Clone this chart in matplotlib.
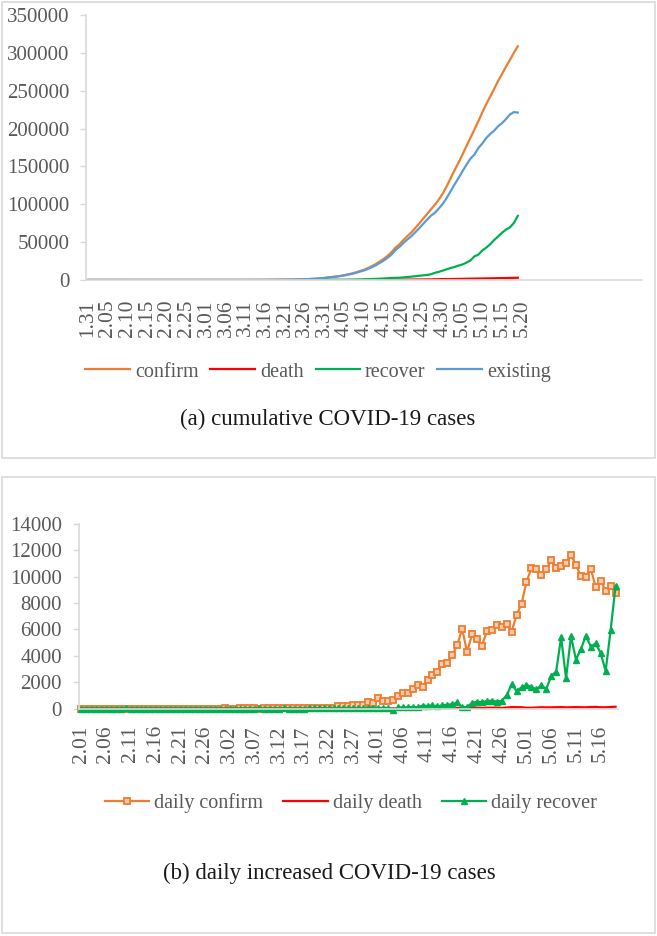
import matplotlib
matplotlib.use('Agg')
import matplotlib.pyplot as plt
from matplotlib.patches import Rectangle

plt.rcParams['font.family'] = ['Liberation Serif', 'DejaVu Serif']

# ---------------- data ----------------
top_tick_labels = ['1.31', '2.05', '2.10', '2.15', '2.20', '2.25', '3.01', '3.06', '3.11',
                   '3.16', '3.21', '3.26', '3.31', '4.05', '4.10', '4.15', '4.20', '4.25',
                   '4.30', '5.05', '5.10', '5.15', '5.20']
bottom_tick_labels = ['2.01', '2.06', '2.11', '2.16', '2.21', '2.26', '3.02', '3.07', '3.12',
                      '3.17', '3.22', '3.27', '4.01', '4.06', '4.11', '4.16', '4.21', '4.26',
                      '5.01', '5.06', '5.11', '5.16']
top_category_count = 141   # category axis slots (blank ones after 5.20)

# cumulative series, 1.31 ... 5.19
confirm = [2, 2, 2, 2, 2, 2, 2, 2, 2, 2, 2, 2, 2, 2, 2, 2, 2, 2, 2, 2, 2, 2, 2, 2, 2, 2, 2, 2, 2, 2,
           3, 3, 3, 4, 10, 14, 17, 17, 20, 28, 34, 45, 59, 63, 93, 114, 147, 199, 253, 306,
           367, 438, 495, 658, 840, 1036, 1264, 1534, 1836, 2337, 2777, 3548, 4149, 4731, 5389,
           6343, 7497, 8672, 10131, 11917,
           13584, 15770, 18328, 21102, 24490, 27938, 32008, 36793, 42853, 47121, 52763, 57999,
           62773, 68622, 74588, 80949, 87147, 93558, 99399, 106498, 114431, 124054, 134687,
           145268, 155370, 165929, 177160, 187859, 198676, 209688, 221344, 232243, 242271,
           252245, 262843, 272043, 281752, 290678, 299941, 308705]
death = [0, 0, 0, 0, 0, 0, 0, 0, 0, 0, 0, 0, 0, 0, 0, 0, 0, 0, 0, 0, 0, 0, 0, 0, 0, 0,
         0, 0, 0, 0, 0, 0, 0, 0, 0, 0, 0, 0, 0, 0, 0, 0, 0, 0, 0, 0, 0,
         1, 1, 1, 1, 1, 1, 3, 3, 4, 4, 8, 9, 17, 24, 30, 34, 43, 45, 47, 58, 63, 76, 94,
         106, 130, 148, 170, 198, 232, 273, 313, 361, 405, 456, 513, 555, 615, 681, 747, 794,
         867, 972, 1073, 1169, 1222, 1280, 1356, 1451, 1537, 1625, 1723, 1827, 1915, 2009,
         2116, 2212, 2305, 2418, 2537, 2631, 2722, 2837, 2972]
recover = [0, 0, 0, 0, 0, 0, 0, 0, 0, 0,
           2, 2, 2, 2, 2, 2, 2, 2, 2, 2, 2, 2, 2, 2, 2, 2, 2, 2, 2, 2, 2, 2, 2, 2, 2, 2, 2,
           3, 3, 3, 3, 3, 5, 5, 5, 5, 5,
           8, 9, 12, 16, 17, 22, 29, 38, 45, 49, 64, 66, 121, 190, 235, 281, 333, 183, 263,
           351, 437, 555, 652, 872, 1072, 1302, 1482, 1722, 2012, 2332, 2792, 2872, 2992,
           3412, 3932, 4412, 4972, 5572, 6092, 6672, 7672, 9502, 10835, 12436, 14229, 15855,
           17311, 19081, 20543, 23019, 25824, 31223, 33522, 39017, 42728, 47219, 52746, 57442,
           62382, 66589, 69425, 75346, 84608]
existing = [2, 2, 2, 2, 2, 2, 2, 2, 2, 2,
            0, 0, 0, 0, 0, 0, 0, 0, 0, 0, 0, 0, 0, 0, 0, 0, 0, 0, 0, 0,
            1, 1, 1, 2, 8, 12, 15, 14, 17, 25, 31, 42, 54, 58, 88, 109, 142, 190, 243, 293,
            350, 420, 472, 626, 799, 987, 1211, 1462, 1761, 2199, 2563, 3283, 3834, 4355, 5161,
            6033, 7088, 8172, 9500, 11171, 12606, 14568, 16878, 19450, 22570, 25694, 29403,
            33688, 39620, 43724, 48895, 53554, 57806, 63035, 68335, 74110, 79681, 85019, 88925,
            94590, 100826, 108603, 117552, 126601, 134838, 143849, 152516, 160312, 165626,
            174251, 180318, 187399, 192840, 197194, 202983, 207124, 212532, 218531, 221758,
            221125]

# daily series, 2.01 ... 5.19
daily_confirm = [0, 0, 0, 0, 0, 0, 0, 0, 0, 0, 0, 0, 0, 0, 0, 0, 0, 0, 0, 0, 0, 0, 0, 0, 0, 0,
                 0, 0, 0, 1, 0, 0, 1, 6, 4, 3, 0, 3, 8, 6, 11, 14, 4, 30, 21, 33, 52, 54, 53,
                 61, 71, 57, 163, 182, 196, 228, 270, 302, 501, 440, 771, 601, 582, 658, 954,
                 1154, 1175, 1459, 1786, 1667, 2186, 2558, 2774, 3388, 3448, 4070, 4785, 6060,
                 4268, 5642, 5236, 4774, 5849, 5966, 6361, 6198, 6411, 5841, 7099, 7933, 9623,
                 10633, 10581, 10102, 10559, 11231, 10699, 10817, 11012, 11656, 10899, 10028,
                 9974, 10598, 9200, 9709, 8926, 9263, 8764]
daily_death = [0, 0, 0, 0, 0, 0, 0, 0, 0, 0, 0, 0, 0, 0, 0, 0, 0, 0, 0, 0, 0, 0, 0, 0, 0, 0,
               0, 0, 0, 0, 0, 0, 0, 0, 0, 0, 0, 0, 0, 0, 0, 0, 0, 0, 0, 0, 1, 0, 0, 0, 0, 0,
               2, 0, 1, 0, 4, 1, 8, 7, 6, 4, 9, 2, 2, 11, 5, 13, 18, 12, 24, 18, 22, 28, 34,
               41, 40, 48, 44, 51, 57, 42, 60, 66, 66, 47, 73, 105, 101, 96, 53, 58, 76, 95,
               86, 88, 98, 104, 88, 94, 107, 96, 93, 113, 119, 94, 91, 115, 135]
daily_recover = [0, 0, 0, 0, 0, 0, 0, 0, 0, 2, 0, 0, 0, 0, 0, 0, 0, 0, 0, 0, 0, 0, 0, 0, 0, 0,
                 0, 0, 0, 0, 0, 0, 0, 0, 0, 0, 1, 0, 0, 0, 0, 2, 0, 0, 0, 0,
                 3, 1, 3, 4, 1, 5, 7, 9, 7, 4, 15, 2, 55, 69, 45, 46, 52, -150, 80, 88, 86,
                 118, 97, 220, 200, 230, 180, 240, 290, 320, 460, 80, 120, 420, 520, 480, 560,
                 600, 520, 580, 1000, 1830, 1333, 1601, 1793, 1626, 1456, 1770, 1462, 2476,
                 2805, 5399, 2299, 5495, 3711, 4491, 5527, 4696, 4940, 4207, 2836, 5921, 9262]

# ---------------- styles ----------------
C_ORANGE = '#ED7D31'
C_RED = '#FF0000'
C_GREEN = '#00B050'
C_BLUE = '#5B9BD5'
C_TEXT = '#595959'
C_AXIS = '#D9D9D9'

W, H = 657, 936
fig = plt.figure(figsize=(W / 100, H / 100), dpi=100)


def fx(px):
    return px / W


def fy(py):
    return 1 - py / H


# panel frames
for (x0, y0, x1, y1) in [(2, 2, 655, 458), (2, 477, 655, 933)]:
    fig.patches.append(Rectangle((fx(x0), fy(y1)), fx(x1) - fx(x0), fy(y0) - fy(y1),
                                 transform=fig.transFigure, fill=False,
                                 edgecolor=C_AXIS, linewidth=1.2))


def style_axes(ax, xpad):
    for s in ['top', 'right']:
        ax.spines[s].set_visible(False)
    for s in ['left', 'bottom']:
        ax.spines[s].set_color(C_AXIS)
        ax.spines[s].set_linewidth(1.2)
    ax.tick_params(axis='y', colors=C_TEXT, labelsize=15, length=4, width=1,
                   color=C_AXIS, pad=8)
    ax.tick_params(axis='x', colors=C_TEXT, labelsize=15.5, length=0, pad=xpad,
                   labelrotation=90)


# ---------------- top panel ----------------
ax1 = fig.add_axes([fx(86), fy(280), fx(642) - fx(86), fy(15) - fy(280)])
x_top = list(range(len(confirm)))
ax1.plot(x_top, confirm, color=C_ORANGE, lw=1.6, label='confirm')
ax1.plot(x_top, death, color=C_RED, lw=1.6, label='death')
ax1.plot(x_top, recover, color=C_GREEN, lw=1.6, label='recover')
ax1.plot(x_top, existing, color=C_BLUE, lw=1.6, label='existing')
ax1.set_xlim(-0.5, top_category_count - 0.5)
ax1.set_ylim(0, 350000)
ax1.set_yticks(range(0, 350001, 50000))
ax1.set_xticks(range(0, 5 * len(top_tick_labels), 5))
ax1.set_xticklabels(top_tick_labels)
style_axes(ax1, 14)
leg1 = fig.legend(handles=ax1.get_lines(), loc='center', ncol=4, frameon=False,
                  bbox_to_anchor=(fx(318), fy(372)), fontsize=14.5, handlelength=2.2,
                  handletextpad=0.25, columnspacing=0.6)
for t in leg1.get_texts():
    t.set_color(C_TEXT)
fig.text(fx(328), fy(419), '(a) cumulative COVID-19 cases', ha='center', va='center',
         fontsize=16.5, color='#1a1a1a')

# ---------------- bottom panel ----------------
ax2 = fig.add_axes([fx(78.7), fy(708.5), fx(618) - fx(78.7), fy(524) - fy(708.5)])
x_bot = list(range(len(daily_confirm)))
ax2.plot(x_bot, daily_confirm, color=C_ORANGE, lw=1.6, marker='s', markersize=4.5,
         markerfacecolor='#F8CBAD', markeredgecolor=C_ORANGE, markeredgewidth=1.3,
         label='daily confirm', clip_on=False)
ax2.plot(x_bot, daily_death, color=C_RED, lw=1.6, label='daily death', clip_on=False)
ax2.plot(x_bot, daily_recover, color=C_GREEN, lw=1.6, marker='^', markersize=4.8,
         markerfacecolor=C_GREEN, markeredgecolor=C_GREEN, label='daily recover',
         clip_on=False)
ax2.set_xlim(-0.5, len(daily_confirm) - 0.5)
ax2.set_ylim(0, 14000)
ax2.set_yticks(range(0, 14001, 2000))
ax2.set_xticks(range(0, 5 * len(bottom_tick_labels), 5))
ax2.set_xticklabels(bottom_tick_labels)
style_axes(ax2, 12)
leg2 = fig.legend(handles=ax2.get_lines(), loc='center', ncol=3, frameon=False,
                  bbox_to_anchor=(fx(351), fy(803)), fontsize=14.5, handlelength=2.2,
                  handletextpad=0.25, columnspacing=1.0)
for t in leg2.get_texts():
    t.set_color(C_TEXT)
fig.text(fx(329), fy(873), '(b) daily increased COVID-19 cases', ha='center', va='center',
         fontsize=16.5, color='#1a1a1a')

fig.savefig('out.png', dpi=100, facecolor='white')
